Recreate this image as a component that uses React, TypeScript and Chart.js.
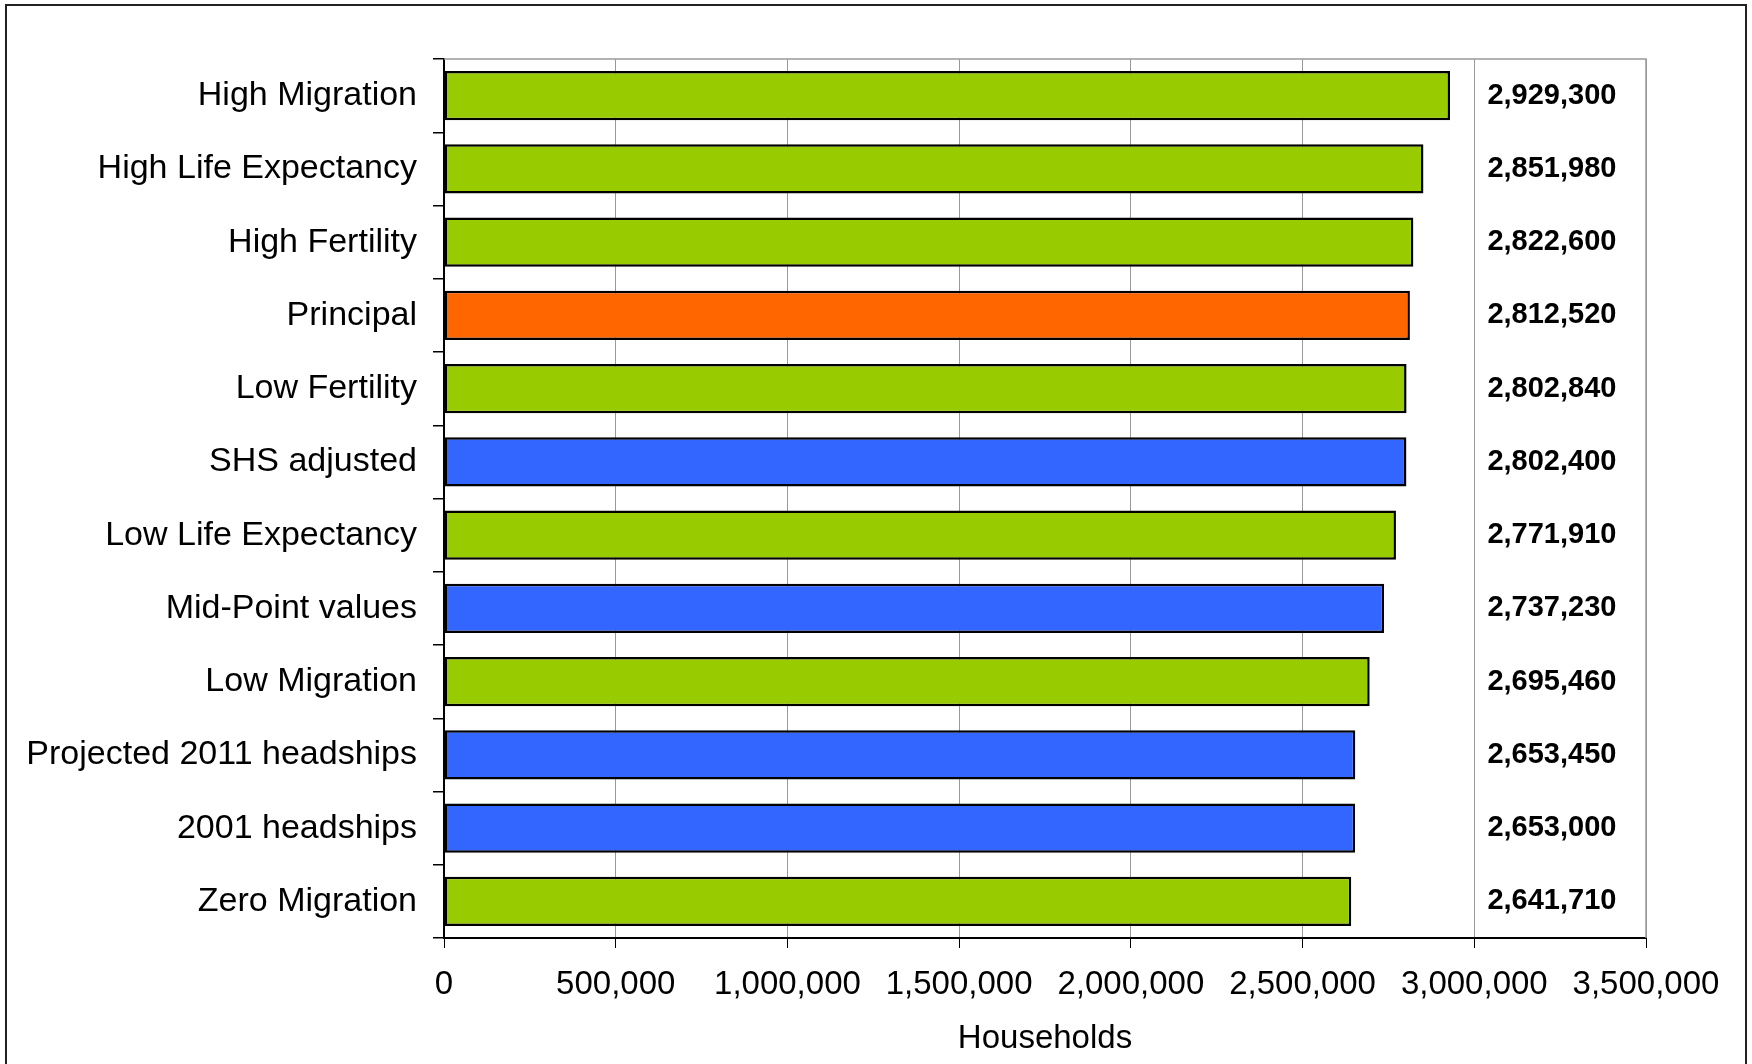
import React, { useEffect, useRef } from "react";
import { Chart, registerables } from "chart.js";

Chart.register(...registerables);

const categories = [
  "High Migration",
  "High Life Expectancy",
  "High Fertility",
  "Principal",
  "Low Fertility",
  "SHS adjusted",
  "Low Life Expectancy",
  "Mid-Point values",
  "Low Migration",
  "Projected 2011 headships",
  "2001 headships",
  "Zero Migration",
];

const households = [
  2929300, 2851980, 2822600, 2812520, 2802840, 2802400, 2771910, 2737230,
  2695460, 2653450, 2653000, 2641710,
];

const variantKind = [
  "variant",
  "variant",
  "variant",
  "principal",
  "variant",
  "headship",
  "variant",
  "headship",
  "variant",
  "headship",
  "headship",
  "variant",
];

const xTicks = [0, 500000, 1000000, 1500000, 2000000, 2500000, 3000000, 3500000];
const xTitle = "Households";

const KIND_COLORS: Record<string, string> = {
  variant: "#99CC00",
  principal: "#FF6600",
  headship: "#3366FF",
};

const FONT = "'Liberation Sans', Arial, Helvetica, sans-serif";
const LABEL_COLUMN_VALUE = 3226000;

const fmt = (v: number) => v.toLocaleString("en-US");

const decorPlugin = {
  id: "decor",
  beforeDatasetsDraw(chart: any) {
    const { ctx, chartArea } = chart;
    ctx.save();
    ctx.strokeStyle = "#999999";
    ctx.lineWidth = 1.5;
    ctx.beginPath();
    ctx.moveTo(chartArea.left, chartArea.top);
    ctx.lineTo(chartArea.right, chartArea.top);
    ctx.lineTo(chartArea.right, chartArea.bottom);
    ctx.stroke();
    ctx.restore();
  },
  afterDatasetsDraw(chart: any) {
    const { ctx } = chart;
    const xs = chart.scales.x;
    const ys = chart.scales.y;
    ctx.save();
    ctx.fillStyle = "#000";
    ctx.font = `bold 29px ${FONT}`;
    ctx.textAlign = "center";
    ctx.textBaseline = "middle";
    const x = xs.getPixelForValue(LABEL_COLUMN_VALUE);
    households.forEach((v, i) => {
      const y = ys.getPixelForValue(i);
      ctx.fillText(fmt(v), x, y);
    });
    ctx.restore();
  },
};

export default function App() {
  const canvasRef = useRef<HTMLCanvasElement | null>(null);

  useEffect(() => {
    if (!canvasRef.current) return;
    const chart = new Chart(canvasRef.current, {
      type: "bar",
      data: {
        labels: categories,
        datasets: [
          {
            data: households,
            backgroundColor: variantKind.map((k) => KIND_COLORS[k]),
            borderColor: "#000000",
            borderWidth: 2.5,
            borderSkipped: false,
            categoryPercentage: 1,
            barPercentage: 0.67,
          },
        ],
      },
      options: {
        indexAxis: "y",
        responsive: false,
        animation: false,
        devicePixelRatio: 1,
        layout: { padding: { left: 0, right: 106, top: 59, bottom: 0 } },
        plugins: {
          legend: { display: false },
          tooltip: { enabled: false },
          title: { display: false },
        },
        scales: {
          x: {
            type: "linear",
            min: 0,
            max: 3500000,
            afterBuildTicks: (scale: any) => {
              scale.ticks = xTicks.map((v) => ({ value: v }));
            },
            afterFit: (scale: any) => {
              scale.height = 126;
            },
            ticks: {
              color: "#000",
              font: { family: FONT, size: 33 },
              padding: 17,
              maxRotation: 0,
              autoSkip: false,
              callback: (v: any) => fmt(Number(v)),
            },
            grid: {
              color: "#999999",
              lineWidth: 1,
              tickColor: "#000000",
              tickLength: 10,
              drawTicks: true,
            },
            border: { display: true, color: "#000000", width: 2 },
            title: {
              display: true,
              text: xTitle,
              color: "#000",
              font: { family: FONT, size: 33 },
              padding: { top: 0, bottom: 5 },
            },
          },
          y: {
            type: "category",
            offset: true,
            afterFit: (scale: any) => {
              scale.width = 444;
            },
            ticks: {
              color: "#000",
              font: { family: FONT, size: 34 },
              padding: 16,
              autoSkip: false,
            },
            grid: {
              offset: true,
              drawOnChartArea: false,
              drawTicks: true,
              tickLength: 11,
              color: "#000000",
              lineWidth: 1.5,
            },
            border: { display: true, color: "#000000", width: 2 },
          },
        },
      },
      plugins: [decorPlugin],
    } as any);
    return () => chart.destroy();
  }, []);

  return (
    <div
      style={{
        position: "fixed",
        left: 0,
        top: 0,
        width: 1752,
        height: 1064,
        background: "#ffffff",
        overflow: "hidden",
      }}
    >
      <canvas
        ref={canvasRef}
        width={1752}
        height={1064}
        style={{ position: "absolute", left: 0, top: 0, width: 1752, height: 1064 }}
      />
      <div
        style={{
          position: "absolute",
          left: 5,
          top: 4,
          width: 1742,
          height: 1100,
          border: "2px solid #222",
          boxSizing: "border-box",
          pointerEvents: "none",
        }}
      />
    </div>
  );
}
